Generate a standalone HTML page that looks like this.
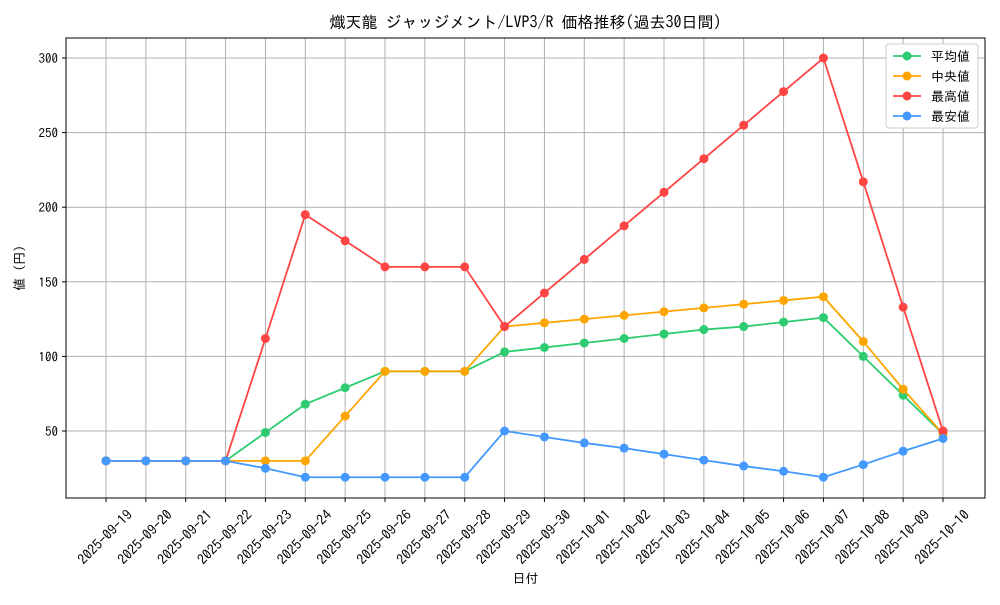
<!DOCTYPE html>
<html><head><meta charset="utf-8"><style>
body{margin:0;background:#fff;}
svg text{font-family:"IPAGothic","Noto Sans CJK JP",sans-serif;fill:#000;}
</style></head><body>
<svg id="chart" width="1000" height="600" xmlns="http://www.w3.org/2000/svg"></svg>
<script>
const categories=["2025-09-19","2025-09-20","2025-09-21","2025-09-22","2025-09-23","2025-09-24","2025-09-25","2025-09-26","2025-09-27","2025-09-28","2025-09-29","2025-09-30","2025-10-01","2025-10-02","2025-10-03","2025-10-04","2025-10-05","2025-10-06","2025-10-07","2025-10-08","2025-10-09","2025-10-10"];
const avgValues=[30,30,30,30,49,68,79,90,90,90,103,106,109,112,115,118,120,123,126,100,74,48];
const medianValues=[30,30,30,30,30,30,60,90,90,90,120,122.5,125,127.5,130,132.5,135,137.5,140,110,78,48];
const maxValues=[30,30,30,30,112,195,177.5,160,160,160,120,142.5,165,187.5,210,232.5,255,277.5,300,217,133,50];
const minValues=[30,30,30,30,25,19,19,19,19,19,50,46,42,38.5,34.5,30.5,26.5,23,19,27.5,36.5,45];
const yTicks=[50,100,150,200,250,300];
const seriesNames=["平均値","中央値","最高値","最安値"];
const seriesColors=["#2ecc71","#ffa500","#ff4444","#4499ff"];
const svg=document.getElementById('chart');
const NS="http://www.w3.org/2000/svg";
const L=66,R=985,T=38,B=498;
function x(i){return 106+i*(943-106)/(categories.length-1);}
function y(v){return 431-(v-50)*373/250;}
function mk(t,a,p){const e=document.createElementNS(NS,t);for(const k in a)e.setAttribute(k,a[k]);(p||svg).appendChild(e);return e;}
const grid=mk('g',{});


categories.forEach((c,i)=>{
  mk('line',{x1:x(i),x2:x(i),y1:T,y2:B,stroke:'#b0b0b0','stroke-width':1},grid);
  mk('line',{x1:x(i),x2:x(i),y1:B,y2:B+4,stroke:'#000'},grid);
  const cx=x(i)-1, cy=537;
  const t=mk('text',{x:cx,y:cy+5,'font-size':14,'text-anchor':'middle',transform:`rotate(-45 ${cx} ${cy})`});
  t.textContent=c;
  
  
});
yTicks.forEach(v=>{
  mk('line',{x1:L,x2:R,y1:y(v),y2:y(v),stroke:'#b0b0b0','stroke-width':1},grid);
  mk('line',{x1:L-4,x2:L,y1:y(v),y2:y(v),stroke:'#000'},grid);
  const t=mk('text',{x:L-8,y:y(v)+5,'font-size':13,'text-anchor':'end'});
  t.textContent=v;
  
  
});
const all=[avgValues,medianValues,maxValues,minValues];
all.forEach((vals,s)=>{
  const g=mk('g',{});
  
  
  mk('polyline',{points:vals.map((v,i)=>x(i)+','+y(v)).join(' '),fill:'none',stroke:seriesColors[s],'stroke-width':1.8},g);
  vals.forEach((v,i)=>{
    const c=mk('circle',{cx:x(i),cy:y(v),r:4.5,fill:seriesColors[s]},g);
    
    
  });
});
mk('rect',{x:L,y:T,width:R-L,height:B-T,fill:'none',stroke:'#000','stroke-width':1});
const title=mk('text',{x:(L+R)/2,y:28,'font-size':16,'text-anchor':'middle'});
title.textContent="熾天龍 ジャッジメント/LVP3/R 価格推移(過去30日間)";


const xt=mk('text',{x:(L+R)/2,y:583,'font-size':13,'text-anchor':'middle'});
xt.textContent="日付";


const yt=mk('text',{x:24,y:268,'font-size':13,'text-anchor':'middle',transform:'rotate(-90 24 268)'});
yt.textContent="値 (円)";


const lg=mk('g',{});


mk('rect',{x:886,y:44,width:92,height:84,rx:3,fill:'#fff',stroke:'#ccc'},lg);
seriesNames.forEach((n,s)=>{
  const yy=56+s*20;
  mk('line',{x1:893,x2:921,y1:yy,y2:yy,stroke:seriesColors[s],'stroke-width':1.8},lg);
  mk('circle',{cx:907,cy:yy,r:4.5,fill:seriesColors[s]},lg);
  const t=mk('text',{x:931,y:yy+5,'font-size':13},lg);
  t.textContent=n;
  
  
});
</script>
</body></html>
